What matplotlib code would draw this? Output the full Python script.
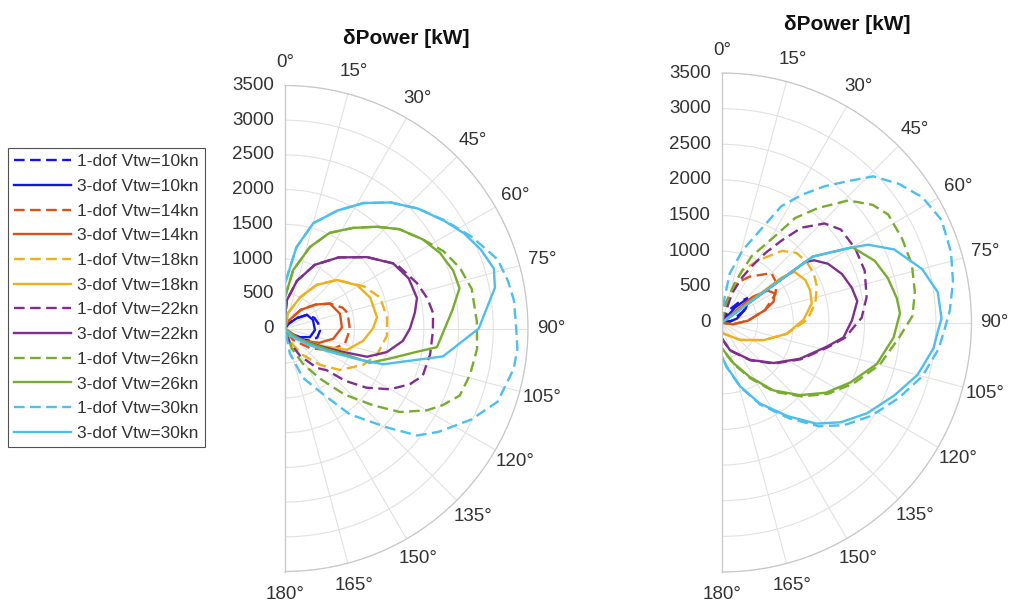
import matplotlib
matplotlib.use("Agg")
import matplotlib.pyplot as plt
import numpy as np
from matplotlib.transforms import ScaledTranslation

plt.rcParams['font.family'] = ['Liberation Sans', 'DejaVu Sans']

# ---- chart values (angle in degrees, δPower in kW) ----
speeds = [10, 14, 18, 22, 26, 30]
colors = ['#1414E6', '#D95319', '#EDB120', '#7E2F8E', '#77AC30', '#4DBEEE']
r_ticks = [0, 500, 1000, 1500, 2000, 2500, 3000, 3500]
theta_ticks = list(range(0, 181, 15))
title = 'δPower [kW]'

# left panel
L10_1_th = [0, 35, 49, 58, 70, 81, 93, 106, 116, 130, 150, 180]
L10_1_r = [0, 80, 229, 372, 450, 483, 507, 481, 401, 220, 60, 0]
L10_3_th = [0, 35, 49, 58, 73, 93, 109, 120, 140, 180]
L10_3_r = [0, 80, 229, 372, 421, 432, 380, 248, 80, 0]

L14_1_th = [0, 20, 40, 52, 61, 70, 76, 91, 104, 116, 128, 145, 180]
L14_1_r = [0, 100, 350, 560, 740, 880, 930, 935, 890, 720, 460, 200, 0]
L14_3_th = [0, 20, 40, 52, 61, 75, 89, 102, 113, 125, 180]
L14_3_r = [0, 100, 350, 560, 740, 820, 820, 710, 530, 300, 0]

L18_1_th = [0, 11, 26, 36, 47, 62, 72, 84, 94, 106, 115, 127, 136, 146, 154, 180]
L18_1_r = [0, 227, 502, 777, 1024, 1290, 1441, 1478, 1472, 1378, 1240, 992, 728, 461, 264, 0]
L18_3_th = [0, 11, 26, 36, 47, 59, 70, 83, 90, 99, 109, 115, 122, 135, 180]
L18_3_r = [0, 227, 502, 777, 1024, 1211, 1305, 1335, 1267, 1138, 945, 600, 350, 150, 0]

L22_1_th = [0, 0, 4, 14, 25, 37, 49, 60, 71, 78, 84, 91, 100, 109, 114, 120, 126, 131, 135, 141, 151, 161, 180]
L22_1_r = [0, 166, 411, 706, 1011, 1282, 1567, 1854, 2010, 2095, 2144, 2131, 2123, 2097, 1970, 1752, 1450, 1148, 850, 732, 451, 221, 0]
L22_3_th = [0, 0, 4, 14, 25, 37, 49, 59, 68, 77, 83, 90, 96, 103, 109, 112, 116, 122, 135, 180]
L22_3_r = [0, 166, 411, 706, 1011, 1282, 1567, 1819, 1922, 1951, 1885, 1800, 1707, 1507, 1250, 900, 600, 350, 150, 0]

L26_1_th = [0, 0, 8, 17, 25, 34, 42, 49, 57, 64, 71, 78, 88, 96, 104, 111, 116, 120, 126, 131, 138, 145, 153, 161, 180]
L26_1_r = [0, 454, 850, 1227, 1520, 1747, 1973, 2180, 2361, 2540, 2667, 2749, 2765, 2782, 2747, 2696, 2522, 2358, 2046, 1689, 1279, 885, 573, 312, 0]
L26_3_th = [0, 0, 8, 17, 25, 34, 42, 49, 57, 64, 71, 77, 84, 97, 100, 106, 112, 113, 116, 120, 130, 180]
L26_3_r = [0, 454, 850, 1227, 1520, 1747, 1973, 2180, 2361, 2483, 2562, 2580, 2420, 2205, 1930, 1570, 1316, 1000, 700, 450, 200, 0]

L30_1_th = [0, 0, 8, 15, 24, 32, 40, 48, 56, 64, 72, 78, 83, 90, 95, 100, 109, 116, 124, 129, 134, 143, 150, 160, 169, 180]
L30_1_r = [0, 650, 1180, 1570, 1860, 2130, 2370, 2580, 2780, 3000, 3220, 3284, 3322, 3330, 3360, 3345, 3238, 2988, 2664, 2448, 2055, 1547, 1089, 755, 369, 0]
L30_3_th = [0, 0, 8, 15, 24, 32, 40, 48, 56, 62, 68, 74, 79, 90, 100, 110, 113, 118, 125, 140, 180]
L30_3_r = [0, 650, 1180, 1570, 1860, 2130, 2370, 2580, 2770, 2920, 3040, 3130, 3080, 2790, 2311, 1506, 1130, 700, 400, 150, 0]

# right panel
R10_1_th = [0, 30, 40, 46, 52, 62, 80, 180]
R10_1_r = [0, 200, 380, 490, 470, 340, 140, 0]
R10_3_th = [0, 41, 46, 52, 60, 75, 100, 180]
R10_3_r = [0, 278, 446, 460, 380, 220, 60, 0]

R14_1_th = [0, 12, 20, 31, 45, 54, 62, 74, 86, 100, 180]
R14_1_r = [0, 300, 590, 750, 980, 944, 850, 625, 365, 150, 0]
R14_3_th = [0, 50, 55, 61, 68, 74, 86, 100, 180]
R14_3_r = [0, 560, 780, 846, 780, 625, 365, 150, 0]

R18_1_th = [0, 15, 21, 30, 40, 47, 55, 62, 69, 78, 88, 100, 113, 134, 176, 180]
R18_1_r = [0, 400, 780, 1004, 1312, 1430, 1460, 1459, 1424, 1340, 1200, 920, 633, 352, 152, 126]
R18_3_th = [0, 53, 55, 63, 70, 78, 88, 100, 113, 134, 176, 180]
R18_3_r = [0, 1050, 1240, 1312, 1316, 1287, 1145, 920, 633, 352, 152, 126]

R22_1_th = [0, 19, 24, 28, 32, 36, 40, 46, 52, 61, 70, 80, 88, 97, 103, 115, 128, 143, 164, 180]
R22_1_r = [0, 430, 690, 900, 1150, 1420, 1737, 2000, 2117, 2138, 2130, 2060, 1961, 1740, 1530, 1220, 935, 665, 410, 230]
R22_3_th = [0, 54, 56, 61, 68, 75, 81, 89, 97, 103, 115, 128, 143, 164, 180]
R22_3_r = [0, 1450, 1560, 1700, 1815, 1885, 1921, 1824, 1717, 1508, 1204, 923, 657, 402, 222]

R26_1_th = [0, 10, 18, 24, 31, 35, 40, 46, 52, 57, 65, 73, 81, 88, 95, 105, 115, 124, 133, 143, 153, 164, 180]
R26_1_r = [0, 250, 600, 1013, 1381, 1790, 2097, 2465, 2681, 2780, 2787, 2785, 2739, 2674, 2490, 2290, 2030, 1790, 1520, 1215, 880, 610, 370]
R26_3_th = [0, 54, 57, 60, 68, 75, 82, 87, 95, 105, 115, 124, 133, 143, 153, 164, 180]
R26_3_r = [0, 1573, 1800, 2111, 2311, 2408, 2475, 2500, 2416, 2249, 1988, 1761, 1494, 1192, 856, 595, 362]

R30_1_th = [0, 5, 9, 16, 24, 27, 32, 37, 42, 46, 52, 58, 65, 73, 80, 87, 92, 97, 105, 113, 122, 130, 137, 145, 155, 164, 174, 180]
R30_1_r = [0, 300, 697, 1060, 1516, 1830, 2112, 2394, 2674, 2952, 3155, 3315, 3400, 3360, 3290, 3200, 3120, 3060, 2910, 2700, 2470, 2240, 1990, 1640, 1270, 945, 630, 480]
R30_3_th = [0, 54, 57, 60, 62, 67, 75, 82, 89, 92, 97, 105, 113, 122, 130, 137, 145, 155, 164, 174, 180]
R30_3_r = [0, 1573, 1800, 2108, 2324, 2624, 2904, 3057, 3080, 3035, 2988, 2840, 2623, 2401, 2177, 1940, 1603, 1253, 935, 623, 480]

left_series = [
    (L10_1_th, L10_1_r), (L10_3_th, L10_3_r),
    (L14_1_th, L14_1_r), (L14_3_th, L14_3_r),
    (L18_1_th, L18_1_r), (L18_3_th, L18_3_r),
    (L22_1_th, L22_1_r), (L22_3_th, L22_3_r),
    (L26_1_th, L26_1_r), (L26_3_th, L26_3_r),
    (L30_1_th, L30_1_r), (L30_3_th, L30_3_r),
]
right_series = [
    (R10_1_th, R10_1_r), (R10_3_th, R10_3_r),
    (R14_1_th, R14_1_r), (R14_3_th, R14_3_r),
    (R18_1_th, R18_1_r), (R18_3_th, R18_3_r),
    (R22_1_th, R22_1_r), (R22_3_th, R22_3_r),
    (R26_1_th, R26_1_r), (R26_3_th, R26_3_r),
    (R30_1_th, R30_1_r), (R30_3_th, R30_3_r),
]

TXT = '#333333'
FS = 13.5
W, H = 1014, 605

fig = plt.figure(figsize=(W / 100, H / 100), dpi=100)


def draw_panel(cx, cy, R, series):
    # polar axes box is kept square by matplotlib, the half disc sits in its middle
    side = 2 * R
    rect = [(cx - R / 2) / W, (H - cy - R) / H, side / W, side / H]
    ax = fig.add_axes(rect, projection='polar')
    ax.set_theta_zero_location('N')
    ax.set_theta_direction(-1)
    ax.set_thetamin(0)
    ax.set_thetamax(180)
    ax.set_rlim(0, 3500)
    ax.set_xticks(np.deg2rad(theta_ticks))
    ax.set_xticklabels([f'{t}°' for t in theta_ticks])
    ax.set_yticks(r_ticks)
    ax.set_yticklabels([])
    ax.grid(True, color='#E2E2E2', lw=0.8)
    ax.tick_params(axis='x', pad=9.5, labelsize=FS, colors=TXT, length=0)
    ax.tick_params(axis='y', length=0)
    for name in ('polar', 'start', 'end'):
        ax.spines[name].set_color('#C8C8C8')
        ax.spines[name].set_linewidth(0.9)
    ax.spines['inner'].set_visible(False)

    off = ax.transData + ScaledTranslation(-8 / 72, 0, fig.dpi_scale_trans)
    for v in r_ticks:
        ax.text(0, v, str(v), transform=off, ha='right', va='center',
                fontsize=FS, color=TXT)

    lines = []
    for i, (th, r) in enumerate(series):
        col = colors[i // 2]
        ls = (0, (4.5, 2.3)) if i % 2 == 0 else '-'
        ln, = ax.plot(np.deg2rad(th), r, color=col, lw=1.7, linestyle=ls)
        lines.append(ln)
    return ax, lines


axL, handles = draw_panel(285, 328.5, 243, left_series)
axR, _ = draw_panel(722, 322.5, 249.5, right_series)

fig.text(406.5 / W, 1 - 38 / H, title, ha='center', va='center',
         fontsize=15, fontweight='bold', color='#111111')
fig.text(847 / W, 1 - 25 / H, title, ha='center', va='center',
         fontsize=15, fontweight='bold', color='#111111')

labels = []
for s in speeds:
    labels.append(f'1-dof Vtw={s}kn')
    labels.append(f'3-dof Vtw={s}kn')

leg = fig.legend(handles, labels, loc='upper left',
                 bbox_to_anchor=(8 / W, 1 - 148 / H), borderaxespad=0,
                 frameon=True, fancybox=False, edgecolor='#262626',
                 fontsize=12.5, handlelength=3.3, labelspacing=0.55,
                 handletextpad=0.35, borderpad=0.35)
leg.get_frame().set_linewidth(0.8)
for t in leg.get_texts():
    t.set_color(TXT)

fig.savefig('out.png', dpi=100, facecolor='white')
